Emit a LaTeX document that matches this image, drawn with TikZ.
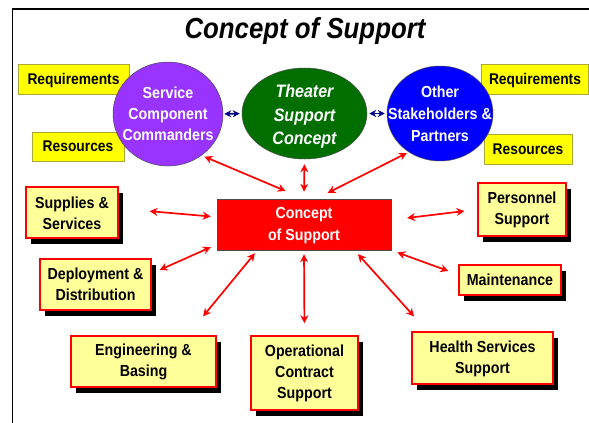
\documentclass[tikz,border=0pt]{standalone}
\usepackage{fontspec}
\setmainfont[FakeStretch=0.89]{Liberation Sans}
\usetikzlibrary{shadows,arrows.meta,shapes.geometric}
\definecolor{tagfill}{HTML}{FFFF00}
\definecolor{tagline}{HTML}{A8A838}
\definecolor{boxfill}{HTML}{FFFF99}
\definecolor{navyline}{HTML}{000080}
\definecolor{purplefill}{HTML}{9933FF}
\definecolor{greenfill}{HTML}{006F00}
\tikzset{
  x=1pt,y=-1pt,
  tagbox/.style={draw=tagline,line width=1pt,fill=tagfill,inner sep=0pt,anchor=center},
  tagtext/.style={inner sep=0pt,font=\bfseries\fontsize{15.5}{19}\selectfont},
  itembox/.style={draw=red,line width=1.4pt,fill=boxfill,inner sep=0pt,anchor=center,
    general shadow={fill=black,shadow xshift=5pt,shadow yshift=-6pt}},
  itemtext/.style={inner sep=0pt,align=center,font=\bfseries\fontsize{16}{21}\selectfont},
  orb/.style={ellipse,draw=black!70,line width=.5pt,inner sep=0pt,anchor=center},
  orbtext/.style={align=center,text=white,inner sep=0pt},
  redlink/.style={draw=red,line width=1.7pt,{Stealth[length=8pt,width=8pt]}-{Stealth[length=8pt,width=8pt]}},
  navylink/.style={draw=navyline,line width=1.8pt,{Stealth[length=7pt,width=7pt]}-{Stealth[length=7pt,width=7pt]}},
}
\begin{document}
\begin{tikzpicture}
\useasboundingbox (0,0) rectangle (589,423);
\fill[white] (0,0) rectangle (589,423);
\draw[black,line width=1.6pt] (12.5,423) -- (12.5,9) -- (589,9);

\node (title) at (305,31) {\bfseries\itshape\fontsize{29}{32}\selectfont Concept of Support};

\node[tagbox,minimum width=111pt,minimum height=30pt,label={[tagtext,yshift=-1pt]center:Requirements}] (reqL) at (73.5,79) {};
\node[tagbox,minimum width=92pt,minimum height=29pt,label={[tagtext]center:Resources}] (resL) at (78,146.5) {};
\node[tagbox,minimum width=107pt,minimum height=30pt,label={[tagtext,yshift=-1pt]center:Requirements}] (reqR) at (535,79) {};
\node[tagbox,minimum width=88pt,minimum height=30pt,label={[tagtext]center:Resources}] (resR) at (528,149) {};

\node[orb,fill=purplefill,minimum width=110pt,minimum height=104pt,
  label={[orbtext,font=\bfseries\fontsize{16}{21}\selectfont]center:Service\\Component\\Commanders}] (scc) at (168,114) {};
\node[orb,fill=greenfill,minimum width=125pt,minimum height=91pt,
  label={[orbtext,yshift=-3pt,font=\bfseries\itshape\fontsize{18}{23.5}\selectfont]center:Theater\\Support\\Concept}] (tsc) at (304.5,113.5) {};
\node[orb,fill=blue,minimum width=106pt,minimum height=95pt,
  label={[orbtext,font=\bfseries\fontsize{16}{22}\selectfont]center:Other\\Stakeholders \&\\Partners}] (osp) at (440,113.5) {};

\node[draw=black!70,line width=.5pt,fill=red,inner sep=0pt,minimum width=174pt,minimum height=51pt,
  label={[orbtext,yshift=-1.5pt,font=\bfseries\fontsize{16}{22}\selectfont]center:Concept\\of Support}] (cos) at (304,224.5) {};

\node[itembox,minimum width=92pt,minimum height=51pt,label={[itemtext,yshift=-.5pt]center:Supplies \&\\Services}] (sup) at (72,212.5) {};
\node[itembox,minimum width=111pt,minimum height=51pt,label={[itemtext]center:Deployment \&\\Distribution}] (dep) at (95.5,284.5) {};
\node[itembox,minimum width=145pt,minimum height=51pt,label={[itemtext]center:Engineering \&\\Basing}] (eng) at (143.5,361.5) {};
\node[itembox,minimum width=107pt,minimum height=74pt,label={[itemtext]center:Operational\\Contract\\Support}] (opc) at (304.5,373) {};
\node[itembox,minimum width=141pt,minimum height=52pt,label={[itemtext,yshift=-1pt]center:Health Services\\Support}] (hss) at (482.5,358) {};
\node[itembox,minimum width=102pt,minimum height=30pt,label={[itemtext]center:Maintenance}] (mnt) at (510,280) {};
\node[itembox,minimum width=88pt,minimum height=53pt,label={[itemtext,yshift=-.5pt]center:Personnel\\Support}] (per) at (522,209.5) {};

\draw[navylink,shorten <=1pt,shorten >=2pt] (scc.east) -- (tsc.west);
\draw[navylink,shorten <=2pt,shorten >=2pt] (tsc.east) -- (osp.west);

\draw[redlink,shorten <=3pt,shorten >=20pt] (scc.-51) -- (cos.north);
\draw[redlink,shorten <=5pt,shorten >=7pt] (tsc.south) -- (cos.north);
\draw[redlink,shorten <=2pt,shorten >=13pt] (osp.-129) -- ([shift={(12,0)}]cos.north);
\draw[redlink,shorten <=31pt,shorten >=6pt] ([shift={(0,-4)}]sup.east) -- ([shift={(0,-7.5)}]cos.west);
\draw[redlink,shorten <=8.7pt,shorten >=6.5pt] ([shift={(0,-11)}]dep.east) -- ([shift={(0,20)}]cos.west);
\draw[redlink,shorten <=24.5pt,shorten >=3.9pt] ([shift={(44,0)}]eng.north) -- ([shift={(-46.6,0)}]cos.south);
\draw[redlink,shorten <=12pt,shorten >=4pt] (opc.north) -- (cos.south);
\draw[redlink,shorten <=20pt,shorten >=5.3pt] ([shift={(-55,0)}]hss.north) -- ([shift={(50.4,0)}]cos.south);
\draw[redlink,shorten <=10.6pt,shorten >=6.4pt] ([shift={(0,-5.4)}]mnt.west) -- (cos.south east);
\draw[redlink,shorten <=13pt,shorten >=16pt] (per.west) -- ([shift={(0,-4.6)}]cos.east);
\end{tikzpicture}
\end{document}
